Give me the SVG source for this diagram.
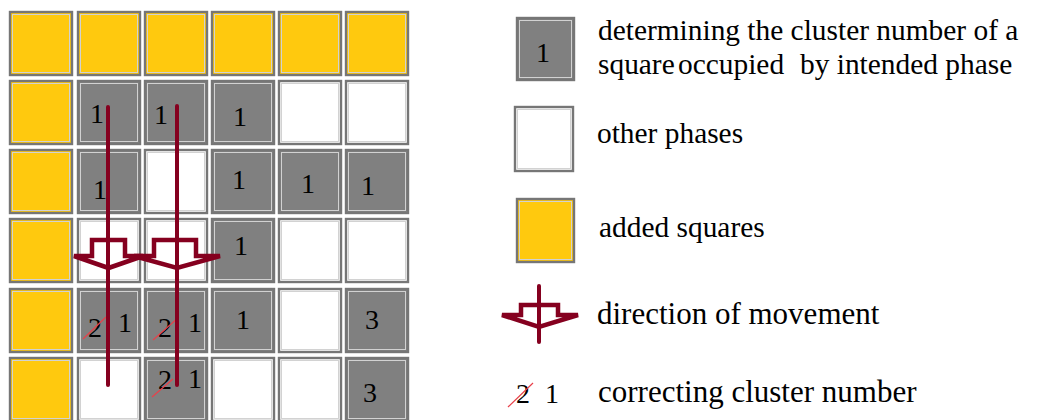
<svg xmlns="http://www.w3.org/2000/svg" xmlns:xlink="http://www.w3.org/1999/xlink" width="1056" height="420" viewBox="0 0 1056 420">
  <style>
    .y { fill: #FFC90E; }
    .g { fill: #808080; }
    .w { fill: #FFFFFF; }
    .num { font-family: "Liberation Serif", "Times New Roman", serif; font-size: 28px; fill: #000; text-anchor: middle; }
    .lbl { font-family: "Liberation Serif", "Times New Roman", serif; font-size: 29.4px; fill: #000; }
    .lbl2 { font-family: "Liberation Serif", "Times New Roman", serif; font-size: 31px; fill: #000; }
    .strike { stroke: #E8404A; stroke-width: 1.2; fill: none; }
    .mv { stroke: #85001F; stroke-width: 4.5; fill: none; stroke-linejoin: miter; stroke-miterlimit: 3; }
    .rod { stroke: #85001F; stroke-width: 4; fill: none; stroke-linecap: round; }
  </style>
  <defs>
    <!-- bevelled cell frame: dark outer edge, light inner edge -->
    <g id="frame">
      <rect x="1" y="1" width="62" height="63" fill="none" stroke="#767676" stroke-width="2.4"/>
      <rect x="3.5" y="3.5" width="57" height="58" fill="none" stroke="#D2D2D2" stroke-width="1"/>
    </g>
  </defs>
  <rect width="1056" height="420" fill="#FFFFFF"/>

  <!-- row 1 -->
  <g id="r1c1" transform="translate(9,11)"><rect class="y" width="64" height="65"/><use href="#frame"/></g>
  <g id="r1c2" transform="translate(77,11)"><rect class="y" width="64" height="65"/><use href="#frame"/></g>
  <g id="r1c3" transform="translate(144,11)"><rect class="y" width="64" height="65"/><use href="#frame"/></g>
  <g id="r1c4" transform="translate(211,11)"><rect class="y" width="64" height="65"/><use href="#frame"/></g>
  <g id="r1c5" transform="translate(278,11)"><rect class="y" width="64" height="65"/><use href="#frame"/></g>
  <g id="r1c6" transform="translate(345,11)"><rect class="y" width="64" height="65"/><use href="#frame"/></g>

  <!-- row 2 -->
  <g id="r2c1" transform="translate(9,80)"><rect class="y" width="64" height="65"/><use href="#frame"/></g>
  <g id="r2c2" transform="translate(77,80)"><rect class="g" width="64" height="65"/><use href="#frame"/><text class="num" x="20" y="43">1</text></g>
  <g id="r2c3" transform="translate(144,80)"><rect class="g" width="64" height="65"/><use href="#frame"/><text class="num" x="17" y="44">1</text></g>
  <g id="r2c4" transform="translate(211,80)"><rect class="g" width="64" height="65"/><use href="#frame"/><text class="num" x="29" y="46">1</text></g>
  <g id="r2c5" transform="translate(278,80)"><rect class="w" width="64" height="65"/><use href="#frame"/></g>
  <g id="r2c6" transform="translate(345,80)"><rect class="w" width="64" height="65"/><use href="#frame"/></g>

  <!-- row 3 -->
  <g id="r3c1" transform="translate(9,149)"><rect class="y" width="64" height="65"/><use href="#frame"/></g>
  <g id="r3c2" transform="translate(77,149)"><rect class="g" width="64" height="65"/><use href="#frame"/><text class="num" x="23" y="50">1</text></g>
  <g id="r3c3" transform="translate(144,149)"><rect class="w" width="64" height="65"/><use href="#frame"/></g>
  <g id="r3c4" transform="translate(211,149)"><rect class="g" width="64" height="65"/><use href="#frame"/><text class="num" x="28" y="40">1</text></g>
  <g id="r3c5" transform="translate(278,149)"><rect class="g" width="64" height="65"/><use href="#frame"/><text class="num" x="30" y="44">1</text></g>
  <g id="r3c6" transform="translate(345,149)"><rect class="g" width="64" height="65"/><use href="#frame"/><text class="num" x="23" y="46">1</text></g>

  <!-- row 4 -->
  <g id="r4c1" transform="translate(9,218)"><rect class="y" width="64" height="65"/><use href="#frame"/></g>
  <g id="r4c2" transform="translate(77,218)"><rect class="w" width="64" height="65"/><use href="#frame"/></g>
  <g id="r4c3" transform="translate(144,218)"><rect class="w" width="64" height="65"/><use href="#frame"/></g>
  <g id="r4c4" transform="translate(211,218)"><rect class="g" width="64" height="65"/><use href="#frame"/><text class="num" x="30" y="37">1</text></g>
  <g id="r4c5" transform="translate(278,218)"><rect class="w" width="64" height="65"/><use href="#frame"/></g>
  <g id="r4c6" transform="translate(345,218)"><rect class="w" width="64" height="65"/><use href="#frame"/></g>

  <!-- row 5 -->
  <g id="r5c1" transform="translate(9,288)"><rect class="y" width="64" height="65"/><use href="#frame"/></g>
  <g id="r5c2" transform="translate(77,288)"><rect class="g" width="64" height="65"/><use href="#frame"/>
    <text class="num" x="18" y="49">2</text><line class="strike" x1="6" y1="51" x2="29" y2="29"/>
    <text class="num" x="48" y="44">1</text></g>
  <g id="r5c3" transform="translate(144,288)"><rect class="g" width="64" height="65"/><use href="#frame"/>
    <text class="num" x="21" y="49">2</text><line class="strike" x1="9" y1="52" x2="35" y2="29"/>
    <text class="num" x="51" y="44">1</text></g>
  <g id="r5c4" transform="translate(211,288)"><rect class="g" width="64" height="65"/><use href="#frame"/><text class="num" x="32" y="41">1</text></g>
  <g id="r5c5" transform="translate(278,288)"><rect class="w" width="64" height="65"/><use href="#frame"/></g>
  <g id="r5c6" transform="translate(345,288)"><rect class="g" width="64" height="65"/><use href="#frame"/><text class="num" x="27" y="41">3</text></g>

  <!-- row 6 -->
  <g id="r6c1" transform="translate(9,357)"><rect class="y" width="64" height="65"/><use href="#frame"/></g>
  <g id="r6c2" transform="translate(77,357)"><rect class="w" width="64" height="65"/><use href="#frame"/></g>
  <g id="r6c3" transform="translate(144,357)"><rect class="g" width="64" height="65"/><use href="#frame"/>
    <text class="num" x="21" y="32">2</text><line class="strike" x1="8" y1="40" x2="29" y2="22"/>
    <text class="num" x="51" y="31">1</text></g>
  <g id="r6c4" transform="translate(211,357)"><rect class="w" width="64" height="65"/><use href="#frame"/></g>
  <g id="r6c5" transform="translate(278,357)"><rect class="w" width="64" height="65"/><use href="#frame"/></g>
  <g id="r6c6" transform="translate(345,357)"><rect class="g" width="64" height="65"/><use href="#frame"/><text class="num" x="25" y="45">3</text></g>

  <!-- movement paths through the grid -->
  <g id="connectors">
    <line class="rod" x1="108" y1="107" x2="108" y2="385"/>
    <line class="rod" x1="177" y1="106" x2="177" y2="385"/>
    <path class="mv" d="M92,240 H125 V256 H143 L108.5,268 L74,256 H92 Z"/>
    <path class="mv" d="M154,240 H196 V256 H220 L177,268 L134,256 H154 Z"/>
  </g>

  <!-- legend -->
  <g id="legend-cluster">
    <g transform="translate(516,17)"><rect class="g" width="59" height="64"/>
      <rect x="1" y="1" width="57" height="62" fill="none" stroke="#767676" stroke-width="2.4"/>
      <rect x="3.5" y="3.5" width="52" height="57" fill="none" stroke="#D2D2D2" stroke-width="1"/></g>
    <text class="num" x="543" y="62">1</text>
    <text class="lbl" x="598" y="40">determining the cluster number of a</text>
    <text class="lbl" y="74"><tspan x="598">square</tspan><tspan x="678">occupied</tspan><tspan x="800">by intended phase</tspan></text>
  </g>
  <g id="legend-other">
    <g transform="translate(514,106)"><rect class="w" width="60" height="66"/>
      <rect x="1" y="1" width="58" height="64" fill="none" stroke="#767676" stroke-width="2.4"/>
      <rect x="3.5" y="3.5" width="53" height="59" fill="none" stroke="#D2D2D2" stroke-width="1"/></g>
    <text class="lbl" x="597" y="143">other phases</text>
  </g>
  <g id="legend-added">
    <g transform="translate(516,198)"><rect class="y" width="59" height="65"/>
      <rect x="1" y="1" width="57" height="63" fill="none" stroke="#767676" stroke-width="2.4"/>
      <rect x="3.5" y="3.5" width="52" height="58" fill="none" stroke="#D2D2D2" stroke-width="1"/></g>
    <text class="lbl" x="599" y="237">added squares</text>
  </g>
  <g id="legend-direction">
    <line class="rod" x1="539" y1="286" x2="539" y2="342"/>
    <path class="mv" d="M521,305 H558 V315 H578 L539,327 L502,315 H521 Z"/>
    <text class="lbl2" x="597" y="324">direction of movement</text>
  </g>
  <g id="legend-correcting">
    <text class="num" x="523" y="403">2</text>
    <line class="strike" x1="508" y1="407" x2="533" y2="383"/>
    <text class="num" x="552" y="403">1</text>
    <text class="lbl2" x="598" y="402">correcting cluster number</text>
  </g>
</svg>
